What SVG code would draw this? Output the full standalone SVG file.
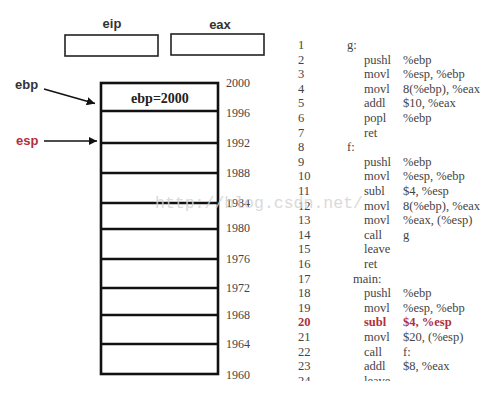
<svg xmlns="http://www.w3.org/2000/svg" width="501" height="394" viewBox="0 0 501 394">
<style>
.reg{fill:#fff;stroke:#222;stroke-width:1.6}
.lbl{font-family:"Liberation Sans",Arial,sans-serif;font-weight:bold;font-size:13px;fill:#333}
.addr{font-family:"Liberation Serif","Times New Roman",serif;font-size:12px;fill:#444}
.code{font-family:"Liberation Serif","Times New Roman",serif;font-size:12.5px;fill:#444}
.hl{fill:#b0303c;font-weight:bold}
.slot{stroke:#111;stroke-width:2.6;fill:none}
.conn{stroke:#111;stroke-width:1.5;fill:none}
</style>
<defs>
<marker id="ah" viewBox="0 0 10 10" refX="10" refY="5" markerWidth="5.5" markerHeight="5.5" orient="auto" markerUnits="strokeWidth">
<path d="M0,0 L10,5 L0,10 z" fill="#111"/>
</marker>
<clipPath id="cut"><rect x="0" y="0" width="501" height="381"/></clipPath>
</defs>
<rect width="501" height="394" fill="#fff"/>
<g id="eip">
<text class="lbl" x="112" y="28" text-anchor="middle">eip</text>
<rect class="reg" x="65" y="35" width="93" height="21"/>
</g>
<g id="eax">
<text class="lbl" x="220" y="29" text-anchor="middle">eax</text>
<rect class="reg" x="171" y="34" width="93" height="21"/>
</g>
<g id="stack">
<rect class="slot" x="101" y="83" width="117" height="291"/>
<path class="slot" d="M101,111H218M101,143H218M101,173H218M101,203H218M101,229H218M101,259H218M101,288H218M101,315H218M101,344H218"/>
<text x="160" y="103" text-anchor="middle" font-family="'Liberation Serif','Times New Roman',serif" font-weight="bold" font-size="14" fill="#222">ebp=2000</text>
</g>
<g id="addresses">
<text class="addr" x="226" y="87">2000</text>
<text class="addr" x="226" y="117">1996</text>
<text class="addr" x="226" y="147">1992</text>
<text class="addr" x="226" y="177">1988</text>
<text class="addr" x="226" y="207">1984</text>
<text class="addr" x="226" y="232">1980</text>
<text class="addr" x="226" y="263">1976</text>
<text class="addr" x="226" y="292">1972</text>
<text class="addr" x="226" y="319">1968</text>
<text class="addr" x="226" y="348">1964</text>
<text class="addr" x="226" y="379">1960</text>
</g>
<g id="ebp">
<text class="lbl" x="15" y="89">ebp</text>
</g>
<g id="esp">
<text class="lbl" x="16" y="145" fill="#b0303c" style="fill:#b0303c">esp</text>
</g>
<g id="connectors">
<line class="conn" x1="44" y1="89" x2="95" y2="103.5" marker-end="url(#ah)"/>
<line class="conn" x1="44" y1="141" x2="97" y2="141" marker-end="url(#ah)"/>
</g>
<g id="code" clip-path="url(#cut)">
<g class="code">
<text x="298" y="49">1</text><text x="347" y="49">g:</text>
<text x="298" y="64">2</text><text x="364" y="64">pushl</text><text x="403" y="64">%ebp</text>
<text x="298" y="78">3</text><text x="364" y="78">movl</text><text x="403" y="78">%esp, %ebp</text>
<text x="298" y="93">4</text><text x="364" y="93">movl</text><text x="403" y="93">8(%ebp), %eax</text>
<text x="298" y="107">5</text><text x="364" y="107">addl</text><text x="403" y="107">$10, %eax</text>
<text x="298" y="122">6</text><text x="364" y="122">popl</text><text x="403" y="122">%ebp</text>
<text x="298" y="137">7</text><text x="364" y="137">ret</text>
<text x="298" y="151">8</text><text x="347" y="151">f:</text>
<text x="298" y="166">9</text><text x="364" y="166">pushl</text><text x="403" y="166">%ebp</text>
<text x="298" y="180">10</text><text x="364" y="180">movl</text><text x="403" y="180">%esp, %ebp</text>
<text x="298" y="195">11</text><text x="364" y="195">subl</text><text x="403" y="195">$4, %esp</text>
<text x="298" y="210">12</text><text x="364" y="210">movl</text><text x="403" y="210">8(%ebp), %eax</text>
<text x="298" y="224">13</text><text x="364" y="224">movl</text><text x="403" y="224">%eax, (%esp)</text>
<text x="298" y="239">14</text><text x="364" y="239">call</text><text x="403" y="239">g</text>
<text x="298" y="253">15</text><text x="364" y="253">leave</text>
<text x="298" y="268">16</text><text x="364" y="268">ret</text>
<text x="298" y="283">17</text><text x="353" y="283">main:</text>
<text x="298" y="297">18</text><text x="364" y="297">pushl</text><text x="403" y="297">%ebp</text>
<text x="298" y="312">19</text><text x="364" y="312">movl</text><text x="403" y="312">%esp, %ebp</text>
<text x="298" y="326" class="hl">20</text><text x="364" y="326" class="hl">subl</text><text x="403" y="326" class="hl">$4, %esp</text>
<text x="298" y="341">21</text><text x="364" y="341">movl</text><text x="403" y="341">$20, (%esp)</text>
<text x="298" y="356">22</text><text x="364" y="356">call</text><text x="403" y="356">f:</text>
<text x="298" y="370">23</text><text x="364" y="370">addl</text><text x="403" y="370">$8, %eax</text>
<text x="298" y="385">24</text><text x="364" y="385">leave</text>
</g>
</g>
<text x="155" y="208" font-family="'Liberation Mono','Courier New',monospace" font-size="16.5" fill="#d4d4d4" opacity="0.85">http://blog.csdn.net/</text>
</svg>
